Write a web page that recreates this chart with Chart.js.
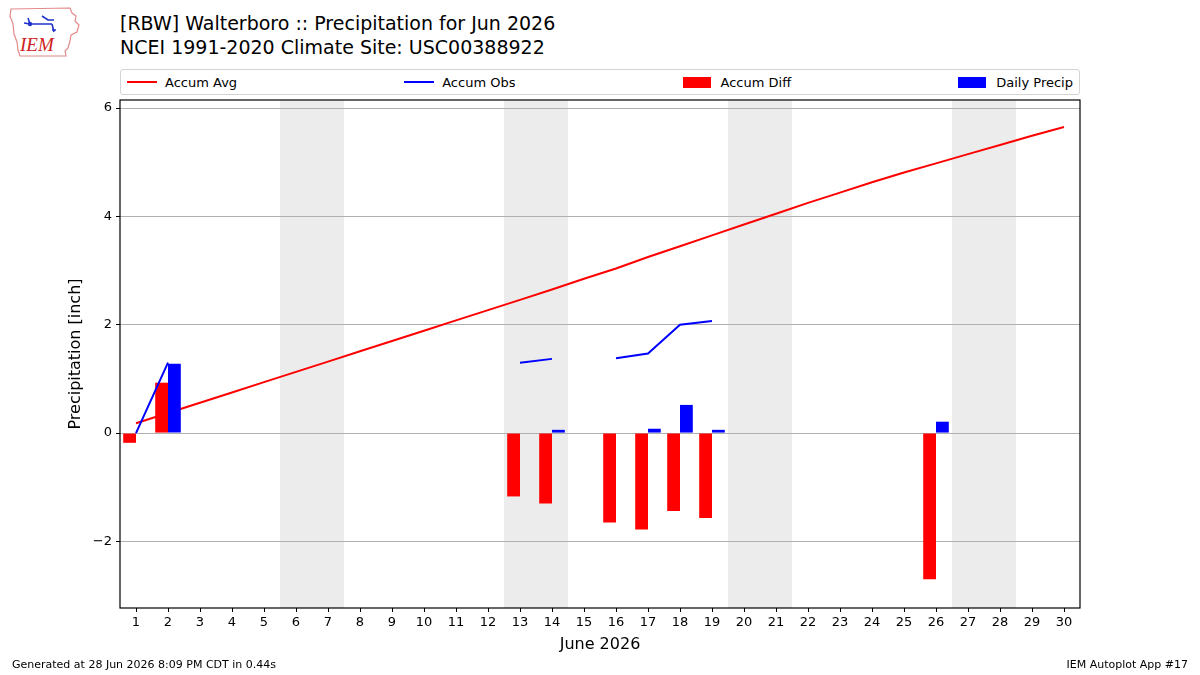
<!DOCTYPE html>
<html>
<head>
<meta charset="utf-8">
<script src="https://cdn.jsdelivr.net/npm/chart.js@4.4.1/dist/chart.umd.min.js"></script>
<style>
  html, body { margin: 0; padding: 0; background: #fff; }
  body { width: 1200px; height: 675px; position: relative; overflow: hidden; font-family: 'DejaVu Sans', sans-serif; color: #000; }
  #c { position: absolute; left: 0; top: 0; }
  .title { position: absolute; left: 120px; font-size: 19px; line-height: 23px; white-space: nowrap; }
  #legend { position: absolute; left: 120px; top: 69px; width: 960px; height: 26px; box-sizing: border-box;
    border: 1px solid #d4d4d4; border-radius: 3px; background: #fff;
    display: flex; justify-content: space-between; align-items: center; padding: 0 6px; font-size: 13px; }
  .item { display: flex; align-items: center; white-space: nowrap; }
  .handle-line { width: 30px; height: 2px; margin-right: 8px; }
  .handle-box { width: 28px; height: 11px; margin-right: 10px; }
  .foot { position: absolute; top: 658px; font-size: 11px; line-height: 13px; white-space: nowrap; }
  #logo { position: absolute; left: 8px; top: 4px; }
</style>
</head>
<body>
<svg id="logo" width="74" height="56" viewBox="0 0 74 56">
  <path d="M3 5 L62 4 L64 9 L68 12 L67 17 L71 21 L69 28 L63 31 L62 37 L60 44 L57 47 L58 52 L12 52 L10 46 L9 38 L6 30 L5 20 L2 12 Z"
        fill="#fff" stroke="#e48a8a" stroke-width="1.2"/>
  <path d="M20 14 L22 20 M16 19 L22 20 M22 20 L44 20 M34 12 L40 16 L46 16 M44 20 L46 28 M44 26 L48 26"
        stroke="#2233cc" stroke-width="1.6" fill="none"/>
  <circle cx="22" cy="20" r="2.2" fill="#2233cc"/>
  <text x="12" y="47" font-family="'Liberation Serif', serif" font-style="italic" font-size="19" fill="#d02020">IEM</text>
</svg>
<div class="title" style="top:12px">[RBW] Walterboro :: Precipitation for Jun 2026</div>
<div class="title" style="top:36px">NCEI 1991-2020 Climate Site: USC00388922</div>
<div id="legend"></div>
<canvas id="c" width="1200" height="675"></canvas>
<div class="foot" style="left:12px">Generated at 28 Jun 2026 8:09 PM CDT in 0.44s</div>
<div class="foot" style="right:12px">IEM Autoplot App #17</div>
<script>
const days = ['1', '2', '3', '4', '5', '6', '7', '8', '9', '10', '11', '12', '13', '14', '15',
    '16', '17', '18', '19', '20', '21', '22', '23', '24', '25', '26', '27', '28', '29', '30'];

const accumAvg = [0.18, 0.37, 0.56, 0.75, 0.94, 1.13, 1.32, 1.51, 1.70, 1.89, 2.08, 2.27, 2.46, 2.65, 2.85,
    3.04, 3.25, 3.45, 3.65, 3.85, 4.05, 4.25, 4.44, 4.63, 4.81, 4.98, 5.15, 5.32, 5.49, 5.65];

const accumObs = [0.0, 1.30, null, null, null, null, null, null, null, null, null, null, 1.30, 1.37, null,
    1.38, 1.47, 2.00, 2.07, null, null, null, null, null, null, 2.27, null, null, null, null];

const accumDiff = [-0.18, 0.93, null, null, null, null, null, null, null, null, null, null, -1.17, -1.30, null,
    -1.65, -1.78, -1.44, -1.57, null, null, null, null, null, null, -2.70, null, null, null, null];

const dailyPrecip = [0.0, 1.28, null, null, null, null, null, null, null, null, null, null, 0.0, 0.06, null,
    0.0, 0.08, 0.52, 0.06, null, null, null, null, null, null, 0.21, null, null, null, null];

const weekendDays = ['6', '7', '13', '14', '20', '21', '27', '28'];
const yTicks = [-2, 0, 2, 4, 6];

const RED = '#ff0000';
const BLUE = '#0000ff';

const weekendShade = {
    id: 'weekendShade',
    beforeDraw(chart) {
        const { ctx, chartArea: a, scales: { x } } = chart;
        const half = (x.getPixelForValue(1) - x.getPixelForValue(0)) / 2;
        ctx.save();
        ctx.fillStyle = '#ececec';
        weekendDays.forEach((d) => {
            const cx = x.getPixelForValue(days.indexOf(d));
            ctx.fillRect(cx - half, a.top, half * 2, a.bottom - a.top);
        });
        ctx.restore();
    }
};

const frame = {
    id: 'frame',
    afterDatasetsDraw(chart) {
        const { ctx, chartArea: a } = chart;
        ctx.save();
        ctx.strokeStyle = '#000';
        ctx.lineWidth = 1.2;
        ctx.strokeRect(a.left, a.top, a.right - a.left, a.bottom - a.top);
        ctx.restore();
    }
};

const chart = new Chart(document.getElementById('c'), {
    type: 'bar',
    data: {
        labels: days,
        datasets: [
            { type: 'line', label: 'Accum Avg', data: accumAvg, borderColor: RED, backgroundColor: RED,
              borderWidth: 2, pointRadius: 0, tension: 0, order: 4 },
            { type: 'line', label: 'Accum Obs', data: accumObs, borderColor: BLUE, backgroundColor: BLUE,
              borderWidth: 2, pointRadius: 0, tension: 0, spanGaps: false, order: 1 },
            { type: 'bar', label: 'Accum Diff', data: accumDiff, backgroundColor: RED,
              categoryPercentage: 0.8, barPercentage: 1.0, order: 2 },
            { type: 'bar', label: 'Daily Precip', data: dailyPrecip, backgroundColor: BLUE,
              categoryPercentage: 0.8, barPercentage: 1.0, order: 3 }
        ]
    },
    options: {
        responsive: false,
        animation: false,
        devicePixelRatio: 1,
        layout: { padding: { left: 0, top: 100, right: 120, bottom: 0 } },
        plugins: { legend: { display: false }, tooltip: { enabled: false } },
        scales: {
            x: {
                offset: true,
                border: { display: false },
                grid: { display: true, drawOnChartArea: false, offset: false, drawTicks: true,
                        tickLength: 4, tickColor: '#000' },
                ticks: { color: '#000', font: { family: 'DejaVu Sans', size: 13 }, padding: 3,
                         maxRotation: 0, autoSkip: false },
                title: { display: true, text: 'June 2026', color: '#000',
                         font: { family: 'DejaVu Sans', size: 16 }, padding: { top: 0, bottom: 21 } },
                afterFit: (scale) => { scale.height = 67; }
            },
            y: {
                min: -3.23,
                max: 6.15,
                border: { display: false },
                grid: { color: '#b0b0b0', lineWidth: 1, tickColor: '#000', tickLength: 4 },
                ticks: { color: '#000', font: { family: 'DejaVu Sans', size: 13 }, padding: 4,
                         callback: (v) => String(v).replace('-', '\u2212') },
                afterBuildTicks: (scale) => { scale.ticks = yTicks.map((v) => ({ value: v })); },
                title: { display: true, text: 'Precipitation [inch]', color: '#000',
                         font: { family: 'DejaVu Sans', size: 16 }, padding: { top: 66, bottom: 0 } },
                afterFit: (scale) => { scale.width = 120; }
            }
        }
    },
    plugins: [weekendShade, frame]
});

// legend, matplotlib style, built from the datasets
const legend = document.getElementById('legend');
chart.data.datasets.forEach((ds) => {
    const item = document.createElement('div');
    item.className = 'item';
    const h = document.createElement('span');
    h.className = ds.type === 'line' ? 'handle-line' : 'handle-box';
    h.style.background = ds.type === 'line' ? ds.borderColor : ds.backgroundColor;
    const t = document.createElement('span');
    t.textContent = ds.label;
    item.appendChild(h);
    item.appendChild(t);
    legend.appendChild(item);
});
</script>
</body>
</html>
